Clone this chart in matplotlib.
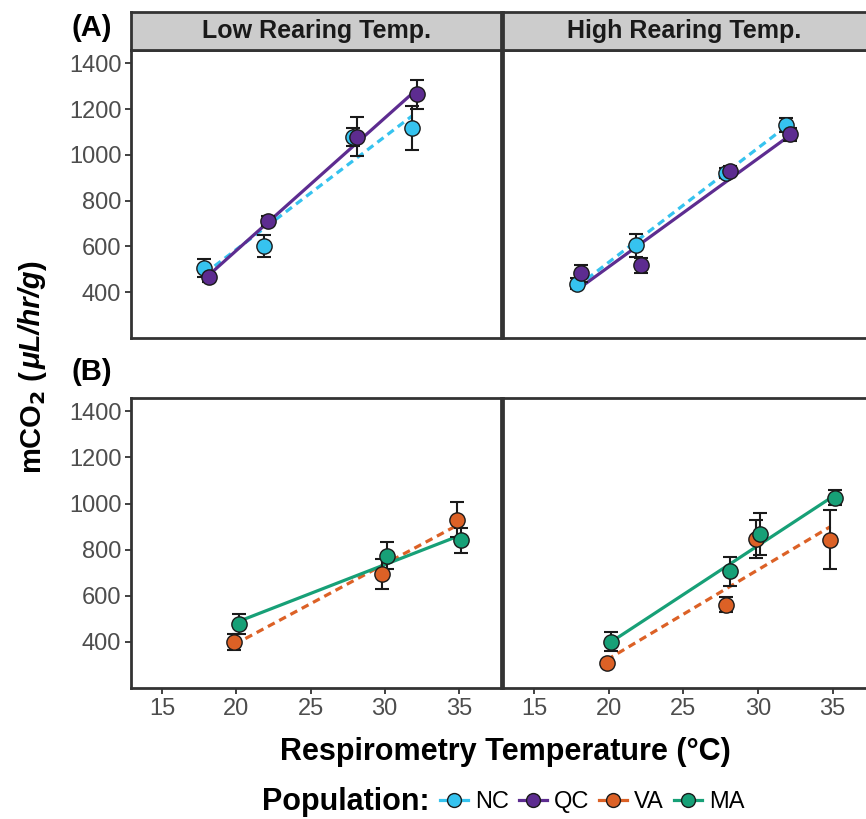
import matplotlib
matplotlib.use("Agg")
import matplotlib.pyplot as plt
from matplotlib.lines import Line2D
import numpy as np

plt.rcParams["font.family"] = ["Liberation Sans", "DejaVu Sans"]

# ---- data (means and +/- error) ----
temps_north = [18, 22, 28, 32]
nc_low = [505, 602, 1078, 1117]
nc_low_err = [40, 50, 40, 97]
qc_low = [465, 710, 1080, 1265]
qc_low_err = [20, 22, 85, 63]
nc_high = [438, 605, 921, 1129]
nc_high_err = [25, 50, 22, 30]
qc_high = [482, 518, 930, 1089]
qc_high_err = [36, 33, 20, 28]

temps_south_low = [20, 30, 35]
va_low = [401, 694, 930]
va_low_err = [35, 64, 77]
ma_low = [477, 774, 840]
ma_low_err = [42, 58, 56]

temps_south_high = [20, 28, 30, 35]
va_high = [307, 561, 848, 843]
va_high_err = [12, 33, 82, 127]
ma_high = [401, 706, 868, 1025]
ma_high_err = [40, 63, 90, 32]

pops = ["NC", "QC", "VA", "MA"]
colors = {"NC": "#36c3ef", "QC": "#5d2c90", "VA": "#dc6126", "MA": "#17a077"}
styles = {"NC": (0, (2.4, 1.6)), "QC": "-", "VA": (0, (2.4, 1.6)), "MA": "-"}
dodge = {"NC": -0.15, "QC": 0.15, "VA": -0.15, "MA": 0.15}
strips = ["Low Rearing Temp.", "High Rearing Temp."]

W, H = 866, 819
fig = plt.figure(figsize=(W / 100, H / 100), dpi=100)


def ax_at(x0, y0, x1, y1):
    # pixel box -> axes
    return fig.add_axes([x0 / W, 1 - y1 / H, (x1 - x0) / W, (y1 - y0) / H])


def draw_pop(ax, pop, temps, means, errs):
    x = np.array(temps, dtype=float) + dodge[pop]
    y = np.array(means, dtype=float)
    a, b = np.polyfit(x, y, 1)
    xs = np.array([x.min(), x.max()])
    ax.plot(xs, a * xs + b, color=colors[pop], lw=2.3, ls=styles[pop],
            zorder=2, solid_capstyle="butt")
    ax.errorbar(x, y, yerr=errs, fmt="none", ecolor="#1a1a1a", elinewidth=1.5,
                capsize=5, capthick=1.5, zorder=3)
    ax.plot(x, y, "o", ms=11, mfc=colors[pop], mec="#1a1a1a", mew=1.0,
            zorder=4, ls="none")


xl = (12.9, 37.84)
yl = (200, 1458)
panels = {
    (0, 0): ax_at(131, 50, 501, 338),
    (0, 1): ax_at(503, 50, 875, 338),
    (1, 0): ax_at(131, 398, 501, 688),
    (1, 1): ax_at(503, 398, 875, 688),
}

for (r, c), ax in panels.items():
    ax.set_xlim(*xl)
    ax.set_ylim(*yl)
    for s in ax.spines.values():
        s.set_color("#333333")
        s.set_linewidth(2.0)
    ax.set_xticks([15, 20, 25, 30, 35])
    ax.set_yticks([400, 600, 800, 1000, 1200, 1400])
    ax.tick_params(length=4, width=1.3, color="#333333", labelcolor="#4d4d4d",
                   labelsize=17, pad=3)
    if r == 0:
        ax.tick_params(axis="x", bottom=False, labelbottom=False)
    if c == 1:
        ax.tick_params(axis="y", left=False, labelleft=False)

draw_pop(panels[(0, 0)], "NC", temps_north, nc_low, nc_low_err)
draw_pop(panels[(0, 0)], "QC", temps_north, qc_low, qc_low_err)
draw_pop(panels[(0, 1)], "NC", temps_north, nc_high, nc_high_err)
draw_pop(panels[(0, 1)], "QC", temps_north, qc_high, qc_high_err)
draw_pop(panels[(1, 0)], "VA", temps_south_low, va_low, va_low_err)
draw_pop(panels[(1, 0)], "MA", temps_south_low, ma_low, ma_low_err)
draw_pop(panels[(1, 1)], "VA", temps_south_high, va_high, va_high_err)
draw_pop(panels[(1, 1)], "MA", temps_south_high, ma_high, ma_high_err)

# facet strips
for i, (x0, x1) in enumerate([(131, 501), (503, 875)]):
    sa = ax_at(x0, 12, x1, 50)
    sa.set_facecolor("#cccccc")
    sa.set_xticks([])
    sa.set_yticks([])
    for s in sa.spines.values():
        s.set_color("#333333")
        s.set_linewidth(2.0)
    cx = (x0 + x1) / 2 if i == 0 else (503 + 866) / 2
    fig.text(cx / W, 1 - 31 / H, strips[i], ha="center", va="center",
             fontsize=18, fontweight="bold", color="#1a1a1a")

fig.text(92 / W, 1 - 28 / H, "(A)", ha="center", va="center",
         fontsize=21, fontweight="bold")
fig.text(92 / W, 1 - 372 / H, "(B)", ha="center", va="center",
         fontsize=21, fontweight="bold")

# y label in pieces: bold + bold italic, rotated
t1 = fig.text(33 / W, 1 - 474 / H, r"mCO$_\mathbf{2}$ (", rotation=90, ha="center",
              va="bottom", fontsize=21, fontweight="bold",
              math_fontfamily="dejavusans")
t2 = fig.text(0, 0, "\u03bcL/hr/g", rotation=90, ha="center", va="bottom",
              fontsize=21, fontweight="bold", style="italic",
              transform=None)
t3 = fig.text(0, 0, ")", rotation=90, ha="center", va="bottom",
              fontsize=21, fontweight="bold", transform=None)
fig.canvas.draw()
r = fig.canvas.get_renderer()
bb1 = t1.get_window_extent(r)
t2.set_position((bb1.x0 + bb1.width / 2, bb1.y1))
fig.canvas.draw()
bb2 = t2.get_window_extent(r)
t3.set_position((bb1.x0 + bb1.width / 2, bb2.y1))

fig.text(505 / W, 1 - 752 / H, "Respirometry Temperature (\u00b0C)",
         ha="center", va="center", fontsize=22, fontweight="bold")

# legend
fig.text(262 / W, 1 - 802 / H, "Population:", ha="left", va="center",
         fontsize=22, fontweight="bold")
handles = [Line2D([], [], color=colors[p], lw=2.3, marker="o", ms=10,
                  mfc=colors[p], mec="#1a1a1a", mew=1.0) for p in pops]
fig.legend(handles, pops, loc="center left", bbox_to_anchor=(440 / W, 1 - 802 / H),
           ncol=4, frameon=False, fontsize=17, handlelength=1.2,
           handletextpad=0.3, columnspacing=0.4, borderpad=0, borderaxespad=0)

fig.savefig("out.png", dpi=100)
